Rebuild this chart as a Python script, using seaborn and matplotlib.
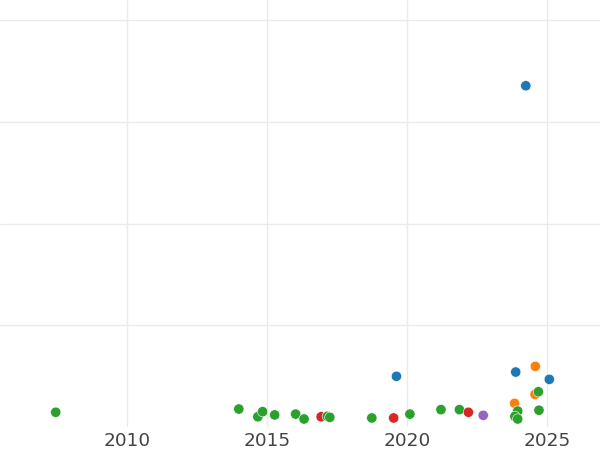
import matplotlib
matplotlib.use("Agg")
import matplotlib.pyplot as plt
import seaborn as sns
import pandas as pd

# year (decimal), value, group
years = [2007.46, 2014.00, 2014.68, 2014.85, 2015.28, 2016.03, 2016.33, 2016.94,
         2017.16, 2017.25, 2018.75, 2019.53, 2020.11, 2021.22, 2021.88, 2022.20,
         2022.73, 2019.63, 2023.89, 2024.59, 2025.09, 2024.58, 2024.70, 2023.85,
         2023.92, 2023.96, 2023.86, 2023.96, 2024.72, 2024.25]
values = [71, 87, 49, 74, 58, 62, 38, 49,
          51, 46, 43, 43, 62, 84, 84, 71,
          56, 248, 269, 297, 233, 159, 172, 115,
          62, 77, 51, 38, 81, 1678]
groups = ["C", "C", "C", "C", "C", "C", "C", "D",
          "C", "C", "C", "D", "C", "C", "C", "D",
          "E", "A", "A", "B", "A", "B", "C", "B",
          "B", "C", "C", "C", "C", "A"]

group_order = ["A", "B", "C", "D", "E"]
palette = ["#1f77b4", "#ff7f0e", "#2ca02c", "#d62728", "#9467bd"]
x_ticks = [2010, 2015, 2020, 2025]
y_ticks = [500, 1000, 1500, 2000]

df = pd.DataFrame({"year": years, "value": values, "group": groups})

sns.set_theme(style="whitegrid")
fig = plt.figure(figsize=(6, 4.5), dpi=100)
ax = fig.add_axes([0, 23.3 / 450, 1, 426.7 / 450])

sns.scatterplot(data=df, x="year", y="value", hue="group", hue_order=group_order,
                palette=palette, s=55, edgecolor="white", linewidth=0.4,
                alpha=1, ax=ax, legend=False, zorder=3)

ax.set_xlim(2005.47, 2026.9)
ax.set_ylim(0, 2100)
ax.set_xticks(x_ticks)
ax.set_xticklabels([str(t) for t in x_ticks], fontsize=13.3, color="#444444")
ax.set_yticks(y_ticks)
ax.set_yticklabels([])
ax.tick_params(axis="both", length=0, pad=4)
ax.grid(True, color="#ebebeb", linewidth=1.0)
ax.set_xlabel("")
ax.set_ylabel("")
for s in ax.spines.values():
    s.set_visible(False)
ax.set_facecolor("white")

fig.savefig("out.png", dpi=100)
